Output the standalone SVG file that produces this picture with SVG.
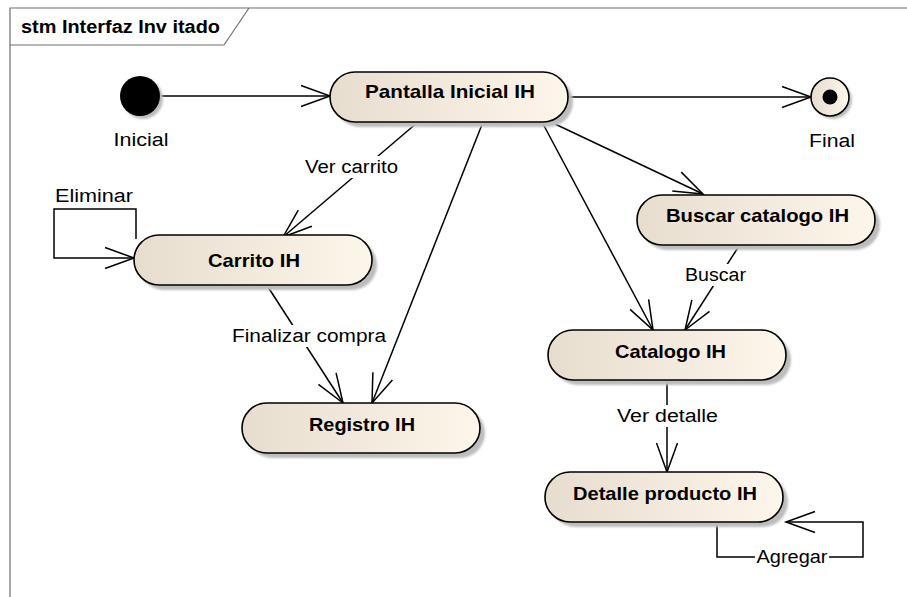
<svg xmlns="http://www.w3.org/2000/svg" width="907" height="597" viewBox="0 0 907 597">
  <style>
    .frame { fill: none; stroke: #6e6e6e; stroke-width: 1.2; }
    .title { font-family: "Liberation Sans", Arial, sans-serif; font-size: 18px; font-weight: bold; fill: #000; }
    .state { stroke: #000; stroke-width: 1.6; fill: url(#stateFill); }
    .shadow { fill: #bdbdbd; filter: url(#soft); }
    .name { font-family: "Liberation Sans", Arial, sans-serif; font-size: 19px; font-weight: bold; fill: #000; text-anchor: middle; }
    .label { font-family: "Liberation Sans", Arial, sans-serif; font-size: 18px; fill: #000; text-anchor: middle; }
    .edge { fill: none; stroke: #000; stroke-width: 1.5; marker-end: url(#open); }
    .plain { fill: none; stroke: #000; stroke-width: 1.5; }
    .bg { fill: #fff; }
  </style>
  <defs>
    <linearGradient id="stateFill" x1="0" y1="0" x2="1" y2="0">
      <stop offset="0" stop-color="#e7ddcf"/>
      <stop offset="1" stop-color="#fdf6ea"/>
    </linearGradient>
    <filter id="soft" x="-10%" y="-30%" width="120%" height="160%">
      <feGaussianBlur stdDeviation="1.2"/>
    </filter>
    <marker id="open" markerUnits="userSpaceOnUse" markerWidth="40" markerHeight="30" refX="0" refY="0" viewBox="-32 -15 40 30" orient="auto" overflow="visible">
      <path d="M -29,-10.5 L 0,0 L -29,10.5" fill="none" stroke="#000" stroke-width="1.5"/>
    </marker>
  </defs>

  <rect width="907" height="597" fill="#fff"/>

  <!-- diagram frame with title tab -->
  <g id="frame">
    <path class="frame" d="M 10,597 L 10,8 L 907,8"/>
    <path class="frame" d="M 10,45 L 224,45 L 249,8"/>
    <text class="title" x="21" y="33" textLength="199" lengthAdjust="spacingAndGlyphs">stm Interfaz Inv itado</text>
  </g>

  <!-- transitions -->
  <g id="connectors">
    <line class="edge" x1="160" y1="96" x2="330" y2="96"/>
    <line class="edge" x1="568" y1="97" x2="811" y2="97"/>
    <line class="edge" x1="418" y1="122" x2="283" y2="237"/>
    <line class="edge" x1="483" y1="122" x2="372" y2="403"/>
    <line class="edge" x1="542" y1="122" x2="653" y2="330"/>
    <line class="edge" x1="555" y1="124" x2="703" y2="194"/>
    <line class="edge" x1="739" y1="246" x2="685" y2="330"/>
    <line class="edge" x1="268" y1="287" x2="343" y2="403"/>
    <line class="edge" x1="667" y1="381" x2="667" y2="472"/>
    <polyline class="edge" points="717,523 717,557 863,557 863,522 786,522"/>
    <polyline class="edge" points="136,239 136,209 54,209 54,258 134,258"/>

    <!-- transition labels on opaque backgrounds -->
    <rect class="bg" x="303" y="156" width="98" height="22"/>
    <text class="label" x="351.5" y="173" textLength="93" lengthAdjust="spacingAndGlyphs">Ver carrito</text>
    <rect class="bg" x="230" y="325" width="158" height="22"/>
    <text class="label" x="309" y="342" textLength="154" lengthAdjust="spacingAndGlyphs">Finalizar compra</text>
    <rect class="bg" x="684" y="264" width="64" height="22"/>
    <text class="label" x="715.5" y="281" textLength="61" lengthAdjust="spacingAndGlyphs">Buscar</text>
    <rect class="bg" x="614" y="405" width="106" height="22"/>
    <text class="label" x="667.5" y="422" textLength="101" lengthAdjust="spacingAndGlyphs">Ver detalle</text>
    <rect class="bg" x="755" y="546" width="74" height="22"/>
    <text class="label" x="792" y="563" textLength="71" lengthAdjust="spacingAndGlyphs">Agregar</text>
    <text class="label" x="94" y="202" textLength="78" lengthAdjust="spacingAndGlyphs">Eliminar</text>
  </g>

  <!-- pseudo-states -->
  <g id="initial">
    <circle cx="143" cy="99" r="20" class="shadow"/>
    <circle cx="140" cy="96" r="20" fill="#000"/>
    <text class="label" x="141" y="146" textLength="55" lengthAdjust="spacingAndGlyphs">Inicial</text>
  </g>
  <g id="final">
    <circle cx="833" cy="100" r="19" class="shadow"/>
    <circle cx="830" cy="97" r="19" fill="url(#stateFill)" stroke="#000" stroke-width="1.6"/>
    <circle cx="830" cy="97" r="7.5" fill="#000"/>
    <text class="label" x="832" y="147" textLength="46" lengthAdjust="spacingAndGlyphs">Final</text>
  </g>

  <!-- states -->
  <g id="pantalla-inicial">
    <rect class="shadow" x="335" y="77" width="238" height="50" rx="25"/>
    <rect class="state" x="330" y="72" width="238" height="50" rx="25"/>
    <text class="name" x="450" y="98" textLength="170" lengthAdjust="spacingAndGlyphs">Pantalla Inicial IH</text>
  </g>
  <g id="carrito">
    <rect class="shadow" x="139" y="240" width="238" height="50" rx="25"/>
    <rect class="state" x="134" y="235" width="238" height="50" rx="25"/>
    <text class="name" x="254" y="267" textLength="92" lengthAdjust="spacingAndGlyphs">Carrito IH</text>
  </g>
  <g id="registro">
    <rect class="shadow" x="247" y="408" width="238" height="50" rx="25"/>
    <rect class="state" x="242" y="403" width="238" height="50" rx="25"/>
    <text class="name" x="362" y="431" textLength="106" lengthAdjust="spacingAndGlyphs">Registro IH</text>
  </g>
  <g id="buscar-catalogo">
    <rect class="shadow" x="642" y="200" width="238" height="50" rx="25"/>
    <rect class="state" x="637" y="195" width="238" height="50" rx="25"/>
    <text class="name" x="757.5" y="222" textLength="183" lengthAdjust="spacingAndGlyphs">Buscar catalogo IH</text>
  </g>
  <g id="catalogo">
    <rect class="shadow" x="553" y="335" width="238" height="50" rx="25"/>
    <rect class="state" x="548" y="330" width="238" height="50" rx="25"/>
    <text class="name" x="670.5" y="358" textLength="111" lengthAdjust="spacingAndGlyphs">Catalogo IH</text>
  </g>
  <g id="detalle-producto">
    <rect class="shadow" x="550" y="477" width="238" height="50" rx="25"/>
    <rect class="state" x="545" y="472" width="238" height="50" rx="25"/>
    <text class="name" x="665" y="500" textLength="184" lengthAdjust="spacingAndGlyphs">Detalle producto IH</text>
  </g>
</svg>
